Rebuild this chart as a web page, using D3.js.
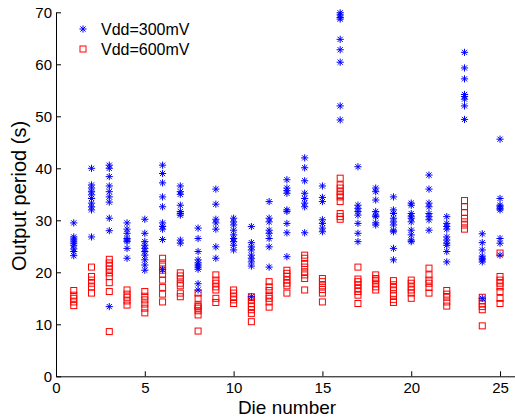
<!DOCTYPE html>
<html>
<head>
<meta charset="utf-8">
<script src="https://cdn.jsdelivr.net/npm/d3@7"></script>
<style>
  body { margin: 0; background: #fff; }
  svg { display: block; font-family: "Liberation Sans", Arial, sans-serif; }
</style>
</head>
<body>
<svg id="chart" width="515" height="418"></svg>
<script>
// die index 1..25
const dies = d3.range(1, 26);

// output period (s) at Vdd = 300 mV, one list per die
const v300 = [
  [29.5, 26.8, 26.4, 26.0, 25.6, 25.2, 24.5, 24.0, 23.2],
  [40.0, 36.8, 36.2, 35.5, 34.9, 34.2, 33.3, 32.6, 32.0, 26.8],
  [40.6, 40.0, 38.4, 36.6, 35.5, 34.5, 33.5, 30.4, 28.0, 13.4],
  [29.5, 28.3, 27.5, 26.5, 26.2, 25.9, 24.6, 22.7],
  [30.2, 27.5, 25.9, 25.2, 24.6, 24.0, 23.3, 22.4, 21.4, 20.4],
  [40.6, 39.0, 37.2, 34.5, 32.6, 29.5, 28.8, 28.3, 26.3, 20.5],
  [36.6, 35.5, 35.0, 32.9, 31.7, 31.3, 31.0, 26.2, 25.6],
  [28.5, 26.5, 24.0, 22.4, 21.8, 21.4, 21.0, 20.6, 17.8, 16.6],
  [36.0, 33.1, 30.2, 29.5, 28.3, 24.9, 22.7],
  [30.4, 29.7, 29.1, 28.1, 27.2, 26.5, 25.9, 25.2, 24.3],
  [28.8, 25.7, 24.9, 24.3, 23.3, 22.7, 22.0, 21.2, 15.3],
  [33.6, 30.4, 29.7, 28.1, 27.5, 26.5, 24.9, 21.0],
  [37.8, 36.2, 35.7, 35.2, 32.0, 31.7, 29.4, 27.6, 23.0],
  [42.0, 40.1, 37.6, 35.2, 34.2, 33.3, 32.6, 27.6],
  [36.6, 34.4, 33.6, 30.1, 29.4, 28.5, 27.8],
  [69.9, 69.5, 69.0, 68.7, 64.8, 62.8, 60.4, 52.0, 49.3],
  [40.3, 32.9, 32.3, 31.7, 31.0, 29.4, 27.5, 25.9],
  [36.2, 35.5, 33.9, 31.7, 31.0, 30.7, 29.5, 29.1],
  [34.5, 32.0, 31.3, 30.4, 29.7, 29.1, 28.1, 27.8, 24.6, 22.4],
  [33.3, 32.9, 31.3, 30.8, 30.4, 29.7, 28.1, 27.2, 26.2, 25.9],
  [38.7, 36.0, 33.3, 32.6, 31.3, 30.7, 30.1, 28.1],
  [30.7, 29.4, 28.8, 28.3, 26.8, 26.2, 25.6, 25.2, 24.0, 22.0],
  [62.3, 59.3, 57.2, 54.2, 53.8, 53.3, 52.0, 49.4],
  [27.4, 25.7, 24.3, 23.1, 22.7, 22.4, 22.0, 15.0],
  [45.6, 34.2, 32.9, 32.6, 32.3, 32.0, 26.5, 25.6, 23.3]
];

// output period (s) at Vdd = 600 mV
const v600 = [
  [16.5, 15.6, 15.0, 14.3, 13.6],
  [21.0, 19.2, 18.5, 17.9, 17.2, 16.0],
  [22.5, 21.8, 21.2, 20.6, 19.9, 19.2, 18.0, 16.3, 8.6],
  [16.6, 15.8, 15.2, 14.5, 13.7],
  [16.3, 15.4, 14.7, 13.9, 13.1, 12.2],
  [22.7, 21.8, 21.2, 20.4, 19.6, 18.5, 17.1, 15.8, 14.3],
  [19.9, 19.3, 18.7, 17.9, 17.4, 16.0, 15.3],
  [16.0, 15.0, 13.7, 13.4, 13.1, 12.6, 11.8, 8.7],
  [19.5, 18.5, 17.9, 17.2, 16.6, 15.0, 14.2],
  [16.6, 16.0, 15.3, 14.7, 14.0],
  [15.3, 14.7, 14.0, 13.4, 12.8, 12.1, 10.5],
  [18.2, 17.2, 16.5, 15.6, 15.0, 14.3, 13.3],
  [20.4, 19.8, 19.2, 18.5, 17.9, 17.4, 16.0],
  [23.3, 22.7, 21.7, 21.0, 20.1, 19.5, 18.8, 16.6],
  [18.8, 18.2, 17.4, 16.7, 16.0, 14.3],
  [38.1, 36.8, 36.2, 35.5, 34.9, 34.5, 33.6, 31.3, 30.7, 30.2],
  [21.0, 18.7, 18.2, 17.6, 16.9, 16.3, 15.6, 14.0],
  [19.5, 18.8, 18.5, 17.9, 17.2, 16.6],
  [18.4, 17.6, 17.1, 16.6, 15.6, 14.8, 14.2],
  [18.5, 17.9, 17.2, 16.6, 16.0, 15.0],
  [20.8, 19.5, 18.5, 17.9, 17.1, 16.0],
  [16.5, 15.8, 15.2, 14.3, 13.5],
  [33.8, 32.6, 31.5, 30.4, 29.7, 29.1, 28.3],
  [15.2, 14.5, 13.9, 13.4, 12.8, 9.7],
  [23.7, 19.2, 18.5, 17.9, 17.2, 16.3, 15.0, 14.0]
];

const xTicks = [0, 5, 10, 15, 20, 25];
const yTicks = [0, 10, 20, 30, 40, 50, 60, 70];
const seriesNames = ["Vdd=300mV", "Vdd=600mV"];

const svg = d3.select("#chart");

const x = d3.scaleLinear().domain([0, 26]).range([56, 517.8]);
const y = d3.scaleLinear().domain([0, 70]).range([376.3, 12.3]);

// flatten into points
const pts300 = [];
const pts600 = [];
dies.forEach((d, i) => {
  v300[i].forEach(v => pts300.push({die: d, val: v}));
  v600[i].forEach(v => pts600.push({die: d, val: v}));
});

// MATLAB style '*' marker
function star(r) {
  const q = r * 0.72;
  return `M${-r},0H${r}M0,${-r}V${r}M${-q},${-q}L${q},${q}M${-q},${q}L${q},${-q}`;
}

// axes
const xAxis = d3.axisBottom(x).tickValues(xTicks).tickSize(-5).tickPadding(6).tickSizeOuter(0);
const yAxis = d3.axisLeft(y).tickValues(yTicks).tickSize(-5).tickPadding(4).tickSizeOuter(0);

const gx = svg.append("g").attr("transform", `translate(0,${y(0)})`).call(xAxis);
const gy = svg.append("g").attr("transform", `translate(${x(0)},0)`).call(yAxis);

[gx, gy].forEach(g => {
  g.select(".domain").attr("stroke", "#000").attr("stroke-width", 1);
  g.selectAll(".tick line").attr("stroke", "#000");
  g.selectAll(".tick text")
    .attr("fill", "#000")
    .style("font-size", "15px")
    .style("font-family", "Liberation Sans, Arial, sans-serif");
});

// squares (600 mV)
svg.append("g").selectAll("rect")
  .data(pts600)
  .join("rect")
  .attr("x", d => x(d.die) - 3)
  .attr("y", d => y(d.val) - 3)
  .attr("width", 6)
  .attr("height", 6)
  .attr("fill", "none")
  .attr("stroke", "#ff0000")
  .attr("stroke-width", 1);

// stars (300 mV)
svg.append("g").selectAll("path")
  .data(pts300)
  .join("path")
  .attr("transform", d => `translate(${x(d.die)},${y(d.val)})`)
  .attr("d", star(3.6))
  .attr("fill", "none")
  .attr("stroke", "#0000ff")
  .attr("stroke-width", 1);

// legend
const legend = svg.append("g");
legend.append("path")
  .attr("transform", "translate(83,29)")
  .attr("d", star(3.6))
  .attr("stroke", "#0000ff")
  .attr("fill", "none");
legend.append("rect")
  .attr("x", 80).attr("y", 46).attr("width", 6).attr("height", 6)
  .attr("fill", "none").attr("stroke", "#ff0000");
legend.selectAll("text")
  .data(seriesNames)
  .join("text")
  .attr("x", 101)
  .attr("y", (d, i) => 35 + i * 20)
  .style("font-size", "16px")
  .text(d => d);

// axis titles
svg.append("text")
  .attr("x", 287)
  .attr("y", 413.5)
  .attr("text-anchor", "middle")
  .style("font-size", "19px")
  .text("Die number");

svg.append("text")
  .attr("transform", "translate(26,196) rotate(-90)")
  .attr("text-anchor", "middle")
  .style("font-size", "20px")
  .text("Output period (s)");
</script>
</body>
</html>
